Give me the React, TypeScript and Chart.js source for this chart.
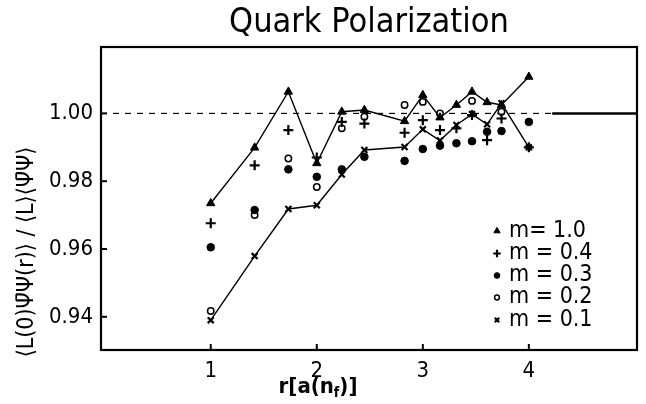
import React, { useEffect, useRef } from "react";
import { Chart, registerables } from "chart.js";
import { drawPoint } from "chart.js/helpers";

Chart.register(...registerables);

const rValues = [1, 1.414, 1.732, 2, 2.236, 2.449, 2.828, 3, 3.162, 3.317, 3.464, 3.606, 3.742, 4];
const m10 = [0.9735, 0.9899, 1.0064, 0.9853, 1.0005, 1.001, 0.9977, 1.0054, 0.9988, 1.0025, 1.0064, 1.0033, 1.0025, 1.0108];
const m04 = [0.9676, 0.9847, 0.9951, 0.987, 0.9975, 0.997, 0.9943, 0.998, 0.9951, 0.9956, 0.9995, 0.9921, 0.9985, 0.99];
const m03 = [0.9605, 0.9715, 0.9835, 0.9813, 0.9835, 0.9872, 0.986, 0.9895, 0.9905, 0.9912, 0.9918, 0.9946, 0.9948, 0.9975];
const m02 = [0.9417, 0.97, 0.9867, 0.9783, 0.9956, 0.999, 1.0025, 1.0034, 1.0, null, 1.0037, null, 1.0005, null];
const m01 = [0.939, 0.9579, 0.9718, 0.9729, 0.982, 0.9892, 0.9901, 0.9953, 0.992, 0.9966, 0.9998, 0.9968, 1.003, 0.99];

const xTicks = [1, 2, 3, 4];
const yTicks = [0.94, 0.96, 0.98, 1.0];
const legendLabels = ["m= 1.0", "m = 0.4", "m = 0.3", "m = 0.2", "m = 0.1"];
const titleText = "Quark Polarization";
const yTitle = "\u27E8L(0)\u03A8\u0304\u03A8(r)\u27E9 / \u27E8L\u27E9\u27E8\u03A8\u0304\u03A8\u27E9";

const FONT = '"DejaVu Sans Condensed", "Liberation Sans Narrow", "DejaVu Sans", sans-serif';

const toPts = (ys: (number | null)[]) =>
  rValues.map((x, i) => ({ x, y: ys[i] })).filter((p) => p.y !== null);

type Sty = { style: string; radius: number; border: number; fill: string };
const styles: Sty[] = [
  { style: "triangle", radius: 4.8, border: 1, fill: "#000" },
  { style: "cross", radius: 5, border: 2.2, fill: "#000" },
  { style: "circle", radius: 3.8, border: 1, fill: "#000" },
  { style: "circle", radius: 3.2, border: 1.5, fill: "#fff" },
  { style: "crossRot", radius: 4.2, border: 2.2, fill: "#000" },
];

const decor = {
  id: "decor",
  beforeDatasetsDraw(chart: any) {
    const { ctx, chartArea: a, scales } = chart;
    const xs = scales.x;
    const ys = scales.y;
    const y1 = ys.getPixelForValue(1.0);
    const xBreak = xs.getPixelForValue(4.22);
    ctx.save();
    ctx.strokeStyle = "#000";
    ctx.lineWidth = 1.2;
    ctx.setLineDash([6, 6]);
    ctx.beginPath();
    ctx.moveTo(a.left, y1);
    ctx.lineTo(xBreak, y1);
    ctx.stroke();
    ctx.setLineDash([]);
    ctx.lineWidth = 2.5;
    ctx.beginPath();
    ctx.moveTo(xBreak, y1);
    ctx.lineTo(a.right, y1);
    ctx.stroke();
    ctx.restore();
  },
  afterDraw(chart: any) {
    const { ctx, chartArea: a, scales } = chart;
    const xs = scales.x;
    const ys = scales.y;
    ctx.save();
    ctx.strokeStyle = "#000";
    ctx.lineWidth = 2.2;
    ctx.strokeRect(a.left, a.top, a.right - a.left, a.bottom - a.top);
    ctx.lineWidth = 2;
    xTicks.forEach((v) => {
      const px = xs.getPixelForValue(v);
      ctx.beginPath();
      ctx.moveTo(px, a.bottom);
      ctx.lineTo(px, a.bottom - 6);
      ctx.stroke();
    });
    yTicks.forEach((v) => {
      const py = ys.getPixelForValue(v);
      ctx.beginPath();
      ctx.moveTo(a.left, py);
      ctx.lineTo(a.left + 6, py);
      ctx.stroke();
    });
    // title
    ctx.fillStyle = "#000";
    ctx.font = `34px ${FONT}`;
    ctx.textAlign = "center";
    ctx.textBaseline = "middle";
    ctx.fillText(titleText, (a.left + a.right) / 2, 23);
    // x title
    ctx.textAlign = "left";
    const p1 = "r[a(n";
    const p2 = "f";
    const p3 = ")]";
    ctx.font = `bold 22px ${FONT}`;
    const w1 = ctx.measureText(p1).width;
    const w3 = ctx.measureText(p3).width;
    ctx.font = `bold 14px ${FONT}`;
    const w2 = ctx.measureText(p2).width;
    const total = w1 + w2 + w3;
    const x0 = 318 - total / 2;
    const yb = 387;
    ctx.font = `bold 22px ${FONT}`;
    ctx.fillText(p1, x0, yb);
    ctx.font = `bold 14px ${FONT}`;
    ctx.fillText(p2, x0 + w1, yb + 6);
    ctx.font = `bold 22px ${FONT}`;
    ctx.fillText(p3, x0 + w1 + w2, yb);
    // y title
    ctx.save();
    ctx.translate(27, 252);
    ctx.rotate(-Math.PI / 2);
    ctx.textAlign = "center";
    ctx.font = `23px ${FONT}`;
    ctx.fillText(yTitle, 0, 0);
    ctx.restore();
    // legend
    const rowsY = [231, 253.5, 275.5, 297.5, 320];
    legendLabels.forEach((lab, i) => {
      const s = styles[i];
      ctx.save();
      ctx.fillStyle = s.fill;
      ctx.strokeStyle = "#000";
      ctx.lineWidth = s.border;
      drawPoint(ctx, { pointStyle: s.style, radius: s.radius * 0.75, borderWidth: s.border, rotation: 0 } as any, 497, rowsY[i]);
      ctx.restore();
      ctx.fillStyle = "#000";
      ctx.font = `23px ${FONT}`;
      ctx.textAlign = "left";
      ctx.textBaseline = "middle";
      ctx.fillText(lab, 509, rowsY[i]);
    });
    ctx.restore();
  },
};

export default function App() {
  const ref = useRef<HTMLCanvasElement | null>(null);
  useEffect(() => {
    if (!ref.current) return;
    const series = [m10, m04, m03, m02, m01];
    const chart = new Chart(ref.current, {
      type: "scatter",
      data: {
        datasets: series.map((ys, i) => ({
          label: legendLabels[i],
          data: toPts(ys) as any,
          showLine: i === 0 || i === 4,
          borderColor: "#000",
          borderWidth: 1.4,
          pointStyle: styles[i].style as any,
          pointRadius: styles[i].radius,
          pointBorderWidth: styles[i].border,
          pointBackgroundColor: styles[i].fill,
          pointBorderColor: "#000",
          tension: 0,
        })),
      },
      options: {
        responsive: false,
        animation: false,
        devicePixelRatio: 1,
        layout: { padding: { top: 47, right: 9, left: 0, bottom: 0 } },
        plugins: { legend: { display: false }, tooltip: { enabled: false }, title: { display: false } },
        scales: {
          x: {
            type: "linear",
            min: -0.035,
            max: 5.02,
            afterBuildTicks: (s: any) => {
              s.ticks = xTicks.map((v) => ({ value: v }));
            },
            afterFit: (s: any) => {
              s.height = 54;
            },
            ticks: {
              color: "#000",
              font: { size: 22, family: FONT },
              padding: 0,
              maxRotation: 0,
              autoSkip: false,
              callback: (v: any) => String(v),
            },
            grid: { display: false },
            border: { display: false },
          },
          y: {
            type: "linear",
            min: 0.9302,
            max: 1.0196,
            afterBuildTicks: (s: any) => {
              s.ticks = yTicks.map((v) => ({ value: v }));
            },
            afterFit: (s: any) => {
              s.width = 101;
            },
            ticks: {
              color: "#000",
              font: { size: 22, family: FONT },
              padding: 0,
              autoSkip: false,
              callback: (v: any) => Number(v).toFixed(2),
            },
            grid: { display: false },
            border: { display: false },
          },
        },
      },
      plugins: [decor],
    });
    return () => chart.destroy();
  }, []);
  return (
    <div style={{ position: "fixed", left: 0, top: 0, width: 646, height: 404, background: "#fff" }}>
      <canvas ref={ref} width={646} height={404} style={{ width: 646, height: 404 }} />
    </div>
  );
}
